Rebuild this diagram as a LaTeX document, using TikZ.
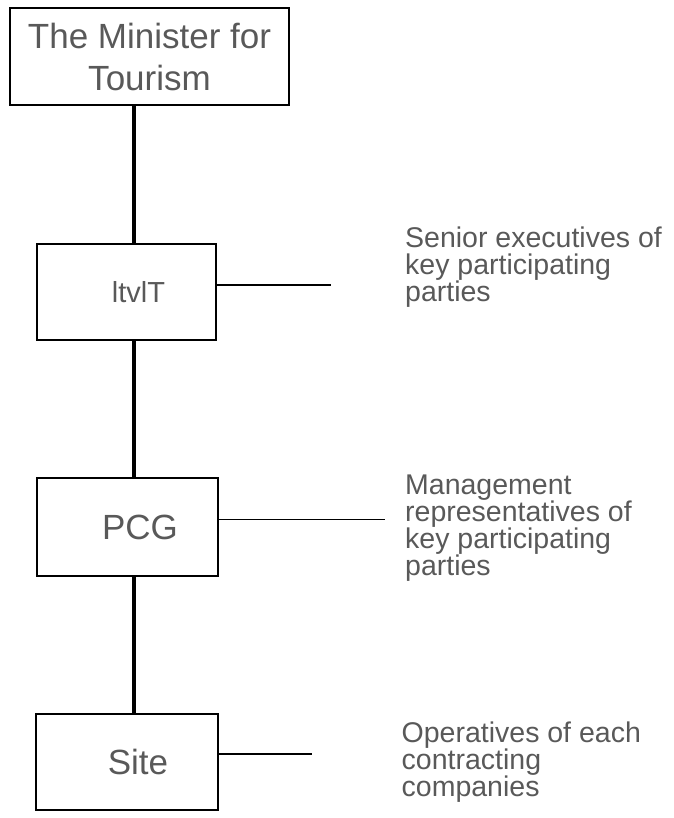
\documentclass[tikz,border=0pt]{standalone}
\usepackage{fontspec}
\setmainfont{Liberation Sans}
\usetikzlibrary{positioning}
\definecolor{orggray}{RGB}{89,89,89}

\begin{document}
\begin{tikzpicture}[x=1pt, y=-1pt,
  orgbox/.style={draw, line width=2pt, inner sep=0pt, text=orggray,
    align=center, font=\fontsize{35}{42}\selectfont},
  roletext/.style={anchor=north west, inner sep=0pt, text=orggray,
    align=left, font=\fontsize{28.5}{27}\selectfont},
  trunk/.style={line width=4.5pt},
  tie/.style={line width=2pt}]
\useasboundingbox (0,0) rectangle (673,818);
% Boxes
\node[orgbox, minimum width=279pt, minimum height=97pt] (minister) at (149.5,56.5) {The Minister for\\Tourism};
\node[orgbox, minimum width=179pt, minimum height=96pt,
      font=\fontsize{29}{35}\selectfont] (mt) at (126.5,292) {\hspace*{24pt}ltvlT};
\node[orgbox, minimum width=181pt, minimum height=98pt] (pcg) at (127.5,527) {\hspace*{25pt}PCG};
\node[orgbox, minimum width=182pt, minimum height=96pt] (site) at (127,762) {\hspace*{22pt}Site};
% Roles
\node[roletext] (mtrole) at (405,227) {Senior executives of\\key participating\\parties};
\node[roletext] (pcgrole) at (405,474.5) {Management\\representatives of\\key participating\\parties};
\node[roletext] (siterole) at (401.5,722) {Operatives of each\\contracting\\companies};
% Lines
\coordinate (spine) at (134,0);
\draw[trunk] (minister.south -| spine) -- (mt.north -| spine);
\draw[trunk] (mt.south -| spine) -- (pcg.north -| spine);
\draw[trunk] (pcg.south -| spine) -- (site.north -| spine);
\coordinate (mtend) at (331,285);
\coordinate (pcgend) at (385,519);
\coordinate (siteend) at (312,754);
\draw[tie] (mt.east |- mtend) -- (mtend);
\draw[line width=1pt] (pcg.east |- pcgend) -- (pcgend);
\draw[tie] (site.east |- siteend) -- (siteend);
\end{tikzpicture}
\end{document}
